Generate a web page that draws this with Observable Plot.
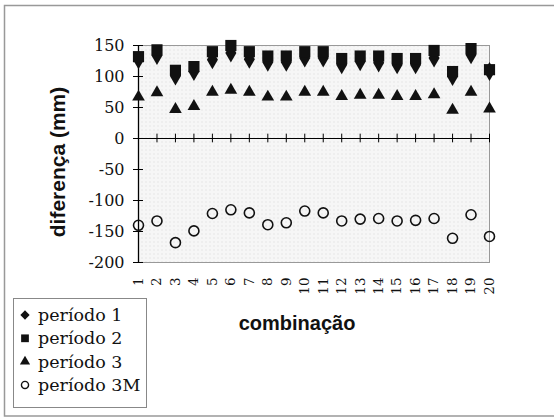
<!DOCTYPE html>
<html>
<head>
<meta charset="utf-8">
<script src="https://cdn.jsdelivr.net/npm/d3@7"></script>
<script src="https://cdn.jsdelivr.net/npm/@observablehq/plot@0.6"></script>
<style>
  html, body { margin: 0; padding: 0; background: #fff; }
  #chart { width: 554px; height: 418px; overflow: hidden; }
</style>
</head>
<body>
<div id="chart"></div>
<script>
const combinacoes = d3.range(1, 21);
const periodo1 = [127, 134, 101, 108, 127, 138, 128, 123, 123, 130, 130, 119, 124, 122, 119, 119, 130, 100, 135, 108];
const periodo2 = [132, 143, 110, 116, 140, 150, 140, 133, 133, 140, 140, 129, 133, 133, 129, 129, 142, 108, 145, 111];
const periodo3 = [67, 74, 47, 52, 75, 78, 75, 67, 67, 75, 75, 68, 70, 70, 68, 68, 71, 46, 75, 48];
const periodo3M = [-140, -133, -168, -149, -121, -115, -120, -139, -136, -117, -120, -133, -130, -129, -133, -132, -129, -161, -123, -158];
const yTicks = [-200, -150, -100, -50, 0, 50, 100, 150];
const seriesNames = ["período 1", "período 2", "período 3", "período 3M"];
const yLabel = "diferença (mm)";
const xLabel = "combinação";

const serif = "DejaVu Serif, Liberation Serif, serif";
const sans = "Liberation Sans, Arial, sans-serif";

const rows = (vals) => combinacoes.map((c, i) => ({x: c, y: vals[i]}));

const chart = Plot.plot({
  width: 554,
  height: 418,
  marginLeft: 138,
  marginRight: 65,
  marginTop: 45,
  marginBottom: 156,
  style: {background: "transparent", overflow: "visible"},
  x: {domain: [1, 20], ticks: combinacoes},
  y: {domain: [-200, 150], ticks: yTicks},
  marks: [
    Plot.frame({fill: "#f4f4f4", stroke: "#999", strokeWidth: 1}),
    Plot.ruleY([0], {stroke: "#000", strokeWidth: 1.2}),
    Plot.ruleX(combinacoes, {x: d => d, y1: -7, y2: 7, stroke: "#000", strokeWidth: 1}),
    Plot.ruleX([1], {stroke: "#000", strokeWidth: 1.3}),
    Plot.ruleY(yTicks, {x1: 1, x2: 1.27, stroke: "#000", strokeWidth: 1}),
    Plot.axisY({ticks: yTicks, tickSize: 5, tickPadding: 9, fontSize: 16, fontFamily: serif, fill: "#111", label: null, tickFormat: d => String(d)}),
    Plot.axisX({ticks: combinacoes, tickSize: 0, tickPadding: 15, fontSize: 13.5, fontFamily: serif, fill: "#111", tickRotate: -90, textAnchor: "end", label: null}),
    Plot.dot(rows(periodo1), {x: "x", y: "y", symbol: "diamond", r: 5.8, fill: "#111", stroke: "none"}),
    Plot.dot(rows(periodo2), {x: "x", y: "y", symbol: "square", r: 6.3, fill: "#111", stroke: "none"}),
    Plot.dot(rows(periodo3), {x: "x", y: "y", symbol: "triangle", r: 4.7, fill: "#111", stroke: "none"}),
    Plot.dot(rows(periodo3M), {x: "x", y: "y", symbol: "circle", r: 5, fill: "none", stroke: "#111", strokeWidth: 1.6}),
    Plot.text([yLabel], {frameAnchor: "left", textAnchor: "middle", dx: -80, dy: 8, rotate: -90, fontSize: 21, fontWeight: "bold", fontFamily: sans, fill: "#111"}),
    Plot.text([xLabel], {frameAnchor: "bottom", textAnchor: "middle", dx: -17, dy: 67, fontSize: 20, fontWeight: "bold", fontFamily: sans, fill: "#111"})
  ]
});

const svg = d3.select(chart);
// dotted pattern background
const defs = svg.insert("defs", ":first-child");
const pat = defs.append("pattern").attr("id", "dots").attr("width", 4).attr("height", 4).attr("patternUnits", "userSpaceOnUse");
pat.append("rect").attr("width", 4).attr("height", 4).attr("fill", "#f6f6f6");
pat.append("rect").attr("x", 1).attr("y", 1).attr("width", 1).attr("height", 1).attr("fill", "#d4d4d4");
svg.selectAll("[aria-label=frame]").each(function() {
  const el = d3.select(this);
  if (this.tagName === "rect") el.attr("fill", "url(#dots)");
  else el.selectAll("rect").attr("fill", "url(#dots)");
});

// outer border
svg.append("rect").attr("x", 4.5).attr("y", 5.5).attr("width", 570).attr("height", 410.5)
  .attr("fill", "none").attr("stroke", "#999").attr("stroke-width", 1.5);

// legend
const lg = svg.append("g").attr("class", "legend").attr("text-anchor", "start");
lg.append("rect").attr("x", 13.5).attr("y", 298.5).attr("width", 133).attr("height", 109)
  .attr("fill", "#fff").attr("stroke", "#888").attr("stroke-width", 1);
const symbols = [d3.symbolDiamond2, d3.symbolSquare, d3.symbolTriangle, d3.symbolCircle];
const sizes = [55, 60, 45, 40];
seriesNames.forEach((name, i) => {
  const cy = 315 + i * 23.3;
  const p = lg.append("path").attr("transform", `translate(25,${cy})`)
    .attr("d", d3.symbol(symbols[i], sizes[i])());
  if (i === 3) p.attr("fill", "none").attr("stroke", "#111").attr("stroke-width", 1.4);
  else p.attr("fill", "#111");
  lg.append("text").attr("x", 38).attr("y", cy + 6).attr("font-family", serif)
    .attr("text-anchor", "start").attr("font-size", 17.5).attr("fill", "#111").text(name);
});

document.getElementById("chart").appendChild(chart);
</script>
</body>
</html>
